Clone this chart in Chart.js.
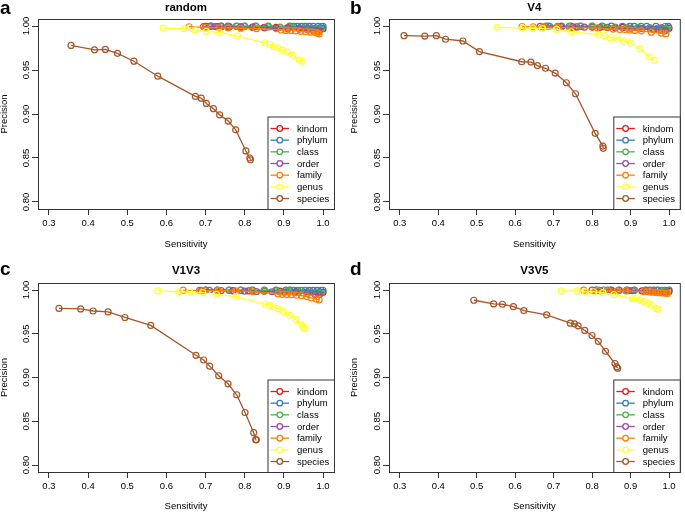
<!DOCTYPE html>
<html>
<head>
<meta charset="utf-8">
<script src="https://cdn.jsdelivr.net/npm/chart.js@4.4.1/dist/chart.umd.min.js"></script>
<style>
  html, body { margin: 0; padding: 0; background: #fff; }
  #wrap { position: relative; width: 685px; height: 513px; }
  canvas { position: absolute; }
</style>
</head>
<body>
<div id="wrap">
  <canvas id="pa" width="343" height="256" style="left:0px;top:0px"></canvas>
  <canvas id="pb" width="342" height="256" style="left:343px;top:0px"></canvas>
  <canvas id="pc" width="343" height="257" style="left:0px;top:256px"></canvas>
  <canvas id="pd" width="342" height="257" style="left:343px;top:256px"></canvas>
</div>
<script>
// labels / ticks
const seriesNames = ['kindom', 'phylum', 'class', 'order', 'family', 'genus', 'species'];
const panelTitles = ['random', 'V4', 'V1V3', 'V3V5'];
const panelLetters = ['a', 'b', 'c', 'd'];
const xTickValues = [0.3, 0.4, 0.5, 0.6, 0.7, 0.8, 0.9, 1.0];
const xTickLabels = ['0.3', '0.4', '0.5', '0.6', '0.7', '0.8', '0.9', '1.0'];
const yTickValues = [0.80, 0.85, 0.90, 0.95, 1.00];
const yTickLabels = ['0.80', '0.85', '0.90', '0.95', '1.00'];

// panel a: random
const random_kindom_x = [0.70, 0.73, 0.76, 0.79, 0.82, 0.85, 0.88, 0.91, 0.94, 0.96, 0.98, 0.99, 1.0];
const random_kindom_y = [0.9996, 0.9994, 0.9992, 0.999, 0.9988, 0.9986, 0.9984, 0.9982, 0.998, 0.9978, 0.9975, 0.9972, 0.997];
const random_phylum_x = [0.712, 0.74, 0.757, 0.779, 0.80, 0.828, 0.86, 0.915, 0.925, 0.935, 0.945, 0.955, 0.965, 0.975, 0.988, 0.996, 1.0];
const random_phylum_y = [1.0, 0.9999, 0.9999, 0.9999, 0.9998, 0.9998, 0.9998, 0.9998, 0.9997, 0.9997, 0.9997, 0.9997, 0.9996, 0.9996, 0.9996, 0.9995, 0.9997];
const random_class_x = [0.715, 0.74, 0.76, 0.78, 0.80, 0.83, 0.86, 0.89, 0.92, 0.95, 0.97, 0.985, 0.995];
const random_class_y = [0.9998, 0.9997, 0.9996, 0.9995, 0.9994, 0.9992, 0.999, 0.9988, 0.9985, 0.998, 0.9975, 0.997, 0.9965];
const random_order_x = [0.695, 0.71, 0.725, 0.74, 0.76, 0.79, 0.82, 0.85, 0.88, 0.91, 0.94, 0.96, 0.975, 0.985, 0.99];
const random_order_y = [0.9995, 0.9994, 0.9993, 0.9992, 0.999, 0.9988, 0.9985, 0.998, 0.9975, 0.997, 0.9965, 0.996, 0.995, 0.9945, 0.994];
const random_family_x = [0.658, 0.70, 0.735, 0.757, 0.79, 0.83, 0.893, 0.905, 0.918, 0.93, 0.943, 0.956, 0.968, 0.981, 0.986, 0.99];
const random_family_y = [0.9992, 0.9985, 0.998, 0.998, 0.9975, 0.997, 0.9955, 0.995, 0.995, 0.9945, 0.994, 0.9935, 0.993, 0.9925, 0.992, 0.991];
const random_genus_x = [0.592, 0.645, 0.672, 0.702, 0.736, 0.781, 0.851, 0.864, 0.874, 0.885, 0.896, 0.909, 0.923, 0.940, 0.947];
const random_genus_y = [0.9977, 0.997, 0.9954, 0.994, 0.9925, 0.9886, 0.981, 0.979, 0.9766, 0.975, 0.9727, 0.9704, 0.9667, 0.9613, 0.960];
const random_species_x = [0.3565, 0.4164, 0.444, 0.475, 0.517, 0.578, 0.674, 0.689, 0.702, 0.720, 0.736, 0.758, 0.777, 0.803, 0.813, 0.8145];
const random_species_y = [0.978, 0.973, 0.9734, 0.969, 0.960, 0.943, 0.920, 0.918, 0.912, 0.906, 0.899, 0.892, 0.882, 0.858, 0.850, 0.848];

// panel b: V4
const v4_kindom_x = [0.68, 0.72, 0.76, 0.80, 0.84, 0.88, 0.92, 0.95, 0.98, 1.0];
const v4_kindom_y = [0.9995, 0.9993, 0.999, 0.9988, 0.9986, 0.9984, 0.9982, 0.998, 0.9978, 0.9976];
const v4_phylum_x = [0.686, 0.72, 0.744, 0.77, 0.80, 0.826, 0.85, 0.879, 0.898, 0.91, 0.927, 0.942, 0.966, 0.99, 0.998];
const v4_phylum_y = [1.0, 0.9999, 0.9999, 0.9999, 0.9998, 0.9998, 0.9998, 0.9997, 0.9997, 0.9997, 0.9996, 0.9996, 0.9996, 0.9995, 0.9996];
const v4_class_x = [0.68, 0.71, 0.74, 0.77, 0.80, 0.83, 0.86, 0.89, 0.92, 0.95, 0.97, 0.99, 0.995];
const v4_class_y = [0.9998, 0.9997, 0.9996, 0.9995, 0.9993, 0.9991, 0.9989, 0.9986, 0.9983, 0.998, 0.9975, 0.997, 0.9965];
const v4_order_x = [0.665, 0.69, 0.72, 0.75, 0.78, 0.82, 0.86, 0.90, 0.93, 0.96, 0.98, 0.99];
const v4_order_y = [0.9997, 0.9995, 0.9993, 0.999, 0.9987, 0.9983, 0.998, 0.9975, 0.997, 0.9963, 0.9955, 0.9948];
const v4_family_x = [0.618, 0.647, 0.672, 0.711, 0.744, 0.813, 0.855, 0.872, 0.885, 0.898, 0.911, 0.928, 0.954, 0.98, 0.992];
const v4_family_y = [0.9995, 0.999, 0.999, 0.9985, 0.998, 0.998, 0.9965, 0.996, 0.996, 0.9955, 0.995, 0.9945, 0.993, 0.992, 0.991];
const v4_genus_x = [0.553, 0.620, 0.646, 0.671, 0.708, 0.746, 0.817, 0.832, 0.848, 0.865, 0.882, 0.900, 0.925, 0.948, 0.962];
const v4_genus_y = [0.9985, 0.9977, 0.9977, 0.997, 0.9962, 0.9935, 0.990, 0.989, 0.9867, 0.9856, 0.983, 0.9806, 0.974, 0.965, 0.961];
const v4_species_x = [0.311, 0.365, 0.395, 0.419, 0.464, 0.507, 0.617, 0.641, 0.658, 0.679, 0.704, 0.733, 0.757, 0.808, 0.828, 0.829];
const v4_species_y = [0.989, 0.9886, 0.989, 0.985, 0.983, 0.971, 0.9594, 0.959, 0.955, 0.952, 0.9465, 0.9355, 0.923, 0.878, 0.8635, 0.861];

// panel c: V1V3
const v1v3_kindom_x = [0.69, 0.73, 0.77, 0.81, 0.85, 0.89, 0.93, 0.96, 0.99, 1.0];
const v1v3_kindom_y = [0.9996, 0.9994, 0.9992, 0.999, 0.9988, 0.9986, 0.9983, 0.998, 0.9976, 0.9974];
const v1v3_phylum_x = [0.70, 0.73, 0.76, 0.79, 0.82, 0.85, 0.88, 0.905, 0.915, 0.925, 0.935, 0.945, 0.955, 0.965, 0.975, 0.985, 0.995, 1.0];
const v1v3_phylum_y = [1.0, 1.0, 0.9999, 0.9999, 0.9999, 0.9998, 0.9998, 0.9998, 0.9998, 0.9997, 0.9997, 0.9997, 0.9997, 0.9996, 0.9996, 0.9996, 0.9995, 0.9997];
const v1v3_class_x = [0.70, 0.73, 0.76, 0.79, 0.82, 0.85, 0.88, 0.91, 0.94, 0.97, 0.985, 0.995];
const v1v3_class_y = [0.9998, 0.9997, 0.9996, 0.9995, 0.9993, 0.9991, 0.9989, 0.9986, 0.9983, 0.9978, 0.9972, 0.9968];
const v1v3_order_x = [0.685, 0.71, 0.74, 0.77, 0.80, 0.83, 0.87, 0.90, 0.93, 0.96, 0.98, 0.99];
const v1v3_order_y = [0.9997, 0.9995, 0.9993, 0.999, 0.9987, 0.9983, 0.998, 0.9975, 0.997, 0.996, 0.995, 0.9945];
const v1v3_family_x = [0.6425, 0.692, 0.732, 0.777, 0.821, 0.885, 0.896, 0.908, 0.919, 0.932, 0.945, 0.958, 0.970, 0.983, 0.99];
const v1v3_family_y = [0.9998, 0.9993, 0.9992, 0.999, 0.998, 0.9955, 0.995, 0.9948, 0.9945, 0.994, 0.9935, 0.9925, 0.991, 0.9895, 0.9888];
const v1v3_genus_x = [0.578, 0.632, 0.6595, 0.6926, 0.728, 0.778, 0.852, 0.8625, 0.8727, 0.886, 0.899, 0.915, 0.931, 0.9455, 0.9506, 0.953];
const v1v3_genus_y = [0.9989, 0.998, 0.9973, 0.997, 0.995, 0.9924, 0.9837, 0.9826, 0.9807, 0.9784, 0.9754, 0.9712, 0.9663, 0.9602, 0.9572, 0.956];
const v1v3_species_x = [0.3255, 0.381, 0.4128, 0.451, 0.494, 0.560, 0.6755, 0.695, 0.7105, 0.7335, 0.7573, 0.7795, 0.8008, 0.8229, 0.828, 0.8297];
const v1v3_species_y = [0.979, 0.9784, 0.976, 0.975, 0.9686, 0.9595, 0.9254, 0.920, 0.913, 0.902, 0.8928, 0.8803, 0.86, 0.837, 0.829, 0.8288];

// panel d: V3V5
const v3v5_kindom_x = [0.81, 0.85, 0.89, 0.93, 0.96, 0.99, 1.0];
const v3v5_kindom_y = [0.9997, 0.9995, 0.9993, 0.999, 0.9988, 0.9985, 0.9984];
const v3v5_phylum_x = [0.81, 0.83, 0.85, 0.87, 0.89, 0.91, 0.94, 0.95, 0.96, 0.97, 0.98, 0.99, 1.0];
const v3v5_phylum_y = [1.0, 1.0, 1.0, 0.9999, 0.9999, 0.9999, 0.9998, 0.9998, 0.9998, 0.9998, 0.9997, 0.9997, 0.9998];
const v3v5_class_x = [0.815, 0.84, 0.87, 0.89, 0.91, 0.94, 0.96, 0.98, 0.99, 0.995];
const v3v5_class_y = [0.9999, 0.9998, 0.9997, 0.9996, 0.9995, 0.9992, 0.999, 0.9987, 0.9984, 0.998];
const v3v5_order_x = [0.80, 0.82, 0.845, 0.87, 0.895, 0.905, 0.94, 0.96, 0.975, 0.99];
const v3v5_order_y = [0.9998, 0.9997, 0.9996, 0.9995, 0.9993, 0.9992, 0.999, 0.9985, 0.998, 0.9975];
const v3v5_family_x = [0.778, 0.815, 0.842, 0.866, 0.888, 0.935, 0.942, 0.95, 0.957, 0.965, 0.972, 0.98, 0.987, 0.993, 0.996];
const v3v5_family_y = [0.9998, 0.9992, 0.999, 0.999, 0.999, 0.998, 0.998, 0.9978, 0.9975, 0.9972, 0.997, 0.9968, 0.9965, 0.9962, 0.996];
const v3v5_genus_x = [0.720, 0.761, 0.782, 0.804, 0.828, 0.857, 0.905, 0.913, 0.924, 0.934, 0.946, 0.954, 0.967, 0.972];
const v3v5_genus_y = [0.9989, 0.9989, 0.998, 0.998, 0.997, 0.9947, 0.990, 0.990, 0.9886, 0.987, 0.9848, 0.9825, 0.9787, 0.978];
const v3v5_species_x = [0.4925, 0.544, 0.567, 0.5955, 0.6226, 0.6817, 0.7433, 0.7544, 0.7638, 0.7809, 0.7997, 0.816, 0.8348, 0.8596, 0.8639, 0.8665];
const v3v5_species_y = [0.9883, 0.9841, 0.9837, 0.981, 0.9765, 0.9716, 0.9621, 0.9614, 0.9591, 0.9538, 0.948, 0.9413, 0.93, 0.916, 0.9121, 0.9106];

const seriesColors = ['#E41A1C', '#377EB8', '#4DAF4A', '#984EA3', '#FF7F00', '#FFFF33', '#A65628'];
const FONT = '"Liberation Sans", Arial, Helvetica, sans-serif';
Chart.defaults.font.family = FONT;
Chart.defaults.font.size = 9.5;
Chart.defaults.color = '#000';

const panelSeries = [
  [[random_kindom_x, random_kindom_y], [random_phylum_x, random_phylum_y], [random_class_x, random_class_y], [random_order_x, random_order_y],
   [random_family_x, random_family_y], [random_genus_x, random_genus_y], [random_species_x, random_species_y]],
  [[v4_kindom_x, v4_kindom_y], [v4_phylum_x, v4_phylum_y], [v4_class_x, v4_class_y], [v4_order_x, v4_order_y],
   [v4_family_x, v4_family_y], [v4_genus_x, v4_genus_y], [v4_species_x, v4_species_y]],
  [[v1v3_kindom_x, v1v3_kindom_y], [v1v3_phylum_x, v1v3_phylum_y], [v1v3_class_x, v1v3_class_y], [v1v3_order_x, v1v3_order_y],
   [v1v3_family_x, v1v3_family_y], [v1v3_genus_x, v1v3_genus_y], [v1v3_species_x, v1v3_species_y]],
  [[v3v5_kindom_x, v3v5_kindom_y], [v3v5_phylum_x, v3v5_phylum_y], [v3v5_class_x, v3v5_class_y], [v3v5_order_x, v3v5_order_y],
   [v3v5_family_x, v3v5_family_y], [v3v5_genus_x, v3v5_genus_y], [v3v5_species_x, v3v5_species_y]]
];

// where each plot box sits inside its canvas
const panelLayout = [
  { id: 'pa', left: 38, top: 19, right: 334, bottom: 209, letterX: 0, letterY: 13.5, titleY: 7.5, yTitlePad: 0, xTitlePad: 7 },
  { id: 'pb', left: 46, top: 19, right: 341, bottom: 209, letterX: 7, letterY: 14, titleY: 7.5, yTitlePad: 7, xTitlePad: 7 },
  { id: 'pc', left: 38, top: 27, right: 334, bottom: 216, letterX: 0, letterY: 18.5, titleY: 15, yTitlePad: 0, xTitlePad: 2 },
  { id: 'pd', left: 46, top: 27, right: 341, bottom: 216, letterX: 7, letterY: 18.5, titleY: 15, yTitlePad: 7, xTitlePad: 2 }
];

// box, rotated y labels, legend, title, letter
const panelDecor = {
  id: 'panelDecor',
  afterDraw(chart, args, opts) {
    const ctx = chart.ctx;
    const a = chart.chartArea;
    ctx.save();
    ctx.strokeStyle = '#333';
    ctx.lineWidth = 1;
    ctx.strokeRect(a.left + 0.5, a.top + 0.5, a.right - a.left, a.bottom - a.top);

    // y tick labels, parallel to the axis like R
    ctx.fillStyle = '#000';
    ctx.font = '9.5px ' + FONT;
    ctx.textAlign = 'center';
    ctx.textBaseline = 'middle';
    yTickValues.forEach((v, i) => {
      const py = chart.scales.y.getPixelForValue(v);
      ctx.save();
      ctx.translate(a.left - 12, py);
      ctx.rotate(-Math.PI / 2);
      ctx.fillText(yTickLabels[i], 0, 0);
      ctx.restore();
    });

    // legend in bottom right corner
    const lw = 66.5, lh = 92.5;
    const lx = a.right - lw, ly = a.bottom - lh;
    ctx.fillStyle = '#fff';
    ctx.fillRect(lx, ly, lw, lh);
    ctx.strokeStyle = '#333';
    ctx.strokeRect(lx + 0.5, ly + 0.5, lw, lh);
    seriesNames.forEach((name, i) => {
      const iy = ly + 12 + i * 11.67;
      ctx.strokeStyle = seriesColors[i];
      ctx.lineWidth = 1.3;
      ctx.beginPath();
      ctx.moveTo(lx + 3, iy);
      ctx.lineTo(lx + 21.5, iy);
      ctx.stroke();
      ctx.beginPath();
      ctx.arc(lx + 12.3, iy, 2.8, 0, Math.PI * 2);
      ctx.fillStyle = '#fff';
      ctx.fill();
      ctx.stroke();
      ctx.fillStyle = '#000';
      ctx.textAlign = 'left';
      ctx.fillText(name, lx + 29.5, iy + 0.5);
    });

    ctx.fillStyle = '#000';
    ctx.font = 'bold 11.5px ' + FONT;
    ctx.textAlign = 'center';
    ctx.textBaseline = 'middle';
    ctx.fillText(opts.title, (a.left + a.right) / 2, opts.titleY);

    ctx.font = 'bold 19px ' + FONT;
    ctx.textAlign = 'left';
    ctx.textBaseline = 'alphabetic';
    ctx.fillText(opts.letter, opts.letterX, opts.letterY);
    ctx.restore();
  }
};

panelLayout.forEach((p, k) => {
  const canvas = document.getElementById(p.id);
  const W = canvas.width, H = canvas.height;
  const datasets = panelSeries[k].map((s, i) => ({
    label: seriesNames[i],
    data: s[0].map((x, j) => ({ x: x, y: s[1][j] })),
    showLine: true,
    borderColor: seriesColors[i],
    backgroundColor: 'rgba(255,255,255,0)',
    borderWidth: 1.3,
    pointRadius: 3,
    pointBorderWidth: 1.2,
    pointBorderColor: seriesColors[i],
    pointBackgroundColor: 'rgba(255,255,255,0)',
    tension: 0,
    order: 7 - i
  }));

  new Chart(canvas, {
    type: 'scatter',
    data: { datasets: datasets },
    options: {
      responsive: false,
      animation: false,
      events: [],
      layout: { padding: { left: 0, top: p.top, right: W - p.right, bottom: 0 } },
      plugins: {
        legend: { display: false },
        tooltip: { enabled: false },
        panelDecor: { title: panelTitles[k], letter: panelLetters[k], titleY: p.titleY, letterX: p.letterX, letterY: p.letterY }
      },
      scales: {
        x: {
          type: 'linear',
          min: 0.272, max: 1.028,
          bounds: 'data',
          afterBuildTicks: (scale) => { scale.ticks = xTickValues.map(v => ({ value: v })); },
          afterFit: (scale) => { scale.height = H - p.bottom; },
          ticks: { autoSkip: false, maxRotation: 0, minRotation: 0, padding: 3, callback: (v, i) => xTickLabels[i] },
          grid: { drawOnChartArea: false, drawTicks: true, tickLength: 6, color: '#333', lineWidth: 1 },
          border: { display: false },
          title: { display: true, text: 'Sensitivity', font: { size: 9.5, lineHeight: 1 }, padding: { top: 0, bottom: p.xTitlePad } }
        },
        y: {
          type: 'linear',
          min: 0.792, max: 1.008,
          bounds: 'data',
          afterBuildTicks: (scale) => { scale.ticks = yTickValues.map(v => ({ value: v })); },
          afterFit: (scale) => { scale.width = p.left; },
          ticks: { display: false },
          grid: { drawOnChartArea: false, drawTicks: true, tickLength: 6, color: '#333', lineWidth: 1 },
          border: { display: false },
          title: { display: true, text: 'Precision', font: { size: 9.5, lineHeight: 1 }, padding: { top: p.yTitlePad, bottom: 0 } }
        }
      }
    },
    plugins: [panelDecor]
  });
});
</script>
</body>
</html>
